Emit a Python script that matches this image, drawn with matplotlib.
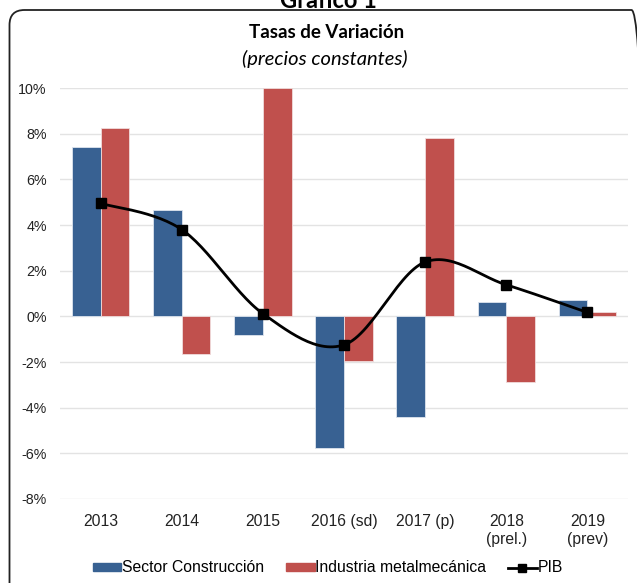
import matplotlib
matplotlib.use("Agg")
import matplotlib.pyplot as plt
import numpy as np
from matplotlib.patches import FancyBboxPatch
from matplotlib.lines import Line2D
from matplotlib.patches import Patch
from matplotlib.transforms import IdentityTransform

categories = ["2013", "2014", "2015", "2016 (sd)", "2017 (p)", "2018\n(prel.)", "2019\n(prev)"]
construccion = [7.4, 4.65, -0.8, -5.75, -4.4, 0.62, 0.7]
metalmecanica = [8.25, -1.65, 10.0, -1.95, 7.8, -2.87, 0.18]
pib = [4.95, 3.8, 0.12, -1.25, 2.38, 1.38, 0.17]

BLUE = "#386192"
RED = "#C0504D"

plt.rcParams['font.family'] = ['Liberation Sans', 'DejaVu Sans']

fig = plt.figure(figsize=(6.37, 5.83), dpi=100)
ax = fig.add_axes([60 / 637, 1 - 499 / 583, 568 / 637, 411 / 583])

x = np.arange(len(categories))
w = 0.354
ax.bar(x - w / 2, construccion, w, color=BLUE, edgecolor="#dde4ee", linewidth=0.6, zorder=2)
ax.bar(x + w / 2, metalmecanica, w, color=RED, edgecolor="#f0dcdc", linewidth=0.6, zorder=2)

# smoothed line like Excel (bezier through the points)
px = x.astype(float)
py = np.array(pib)
pts = np.column_stack([px, py])
curve = []
t = np.linspace(0, 1, 30)
for i in range(len(pts) - 1):
    p0 = pts[max(i - 1, 0)]
    p1 = pts[i]
    p2 = pts[i + 1]
    p3 = pts[min(i + 2, len(pts) - 1)]
    c1 = p1 + (p2 - p0) / 6
    c2 = p2 - (p3 - p1) / 6
    seg = ((1 - t) ** 3)[:, None] * p1 + (3 * (1 - t) ** 2 * t)[:, None] * c1 \
        + (3 * (1 - t) * t ** 2)[:, None] * c2 + (t ** 3)[:, None] * p2
    curve.append(seg)
curve = np.vstack(curve)
ax.plot(curve[:, 0], curve[:, 1], color="black", lw=2.0, zorder=3)
ax.plot(px, py, ls="none", marker="s", ms=6.5, color="black", zorder=4)

ax.set_xlim(-0.5, len(categories) - 0.5)
ax.set_ylim(-8, 10)
ax.set_yticks(np.arange(-8, 11, 2))
ax.set_yticklabels([f"{v}%" for v in range(-8, 11, 2)])
ax.set_xticks(x)
ax.set_xticklabels(categories)
ax.tick_params(axis="both", length=0, colors="#222222")
ax.tick_params(axis="y", pad=9.5, labelsize=10.3)
ax.tick_params(axis="x", pad=11, labelsize=11.3)
ax.grid(axis="y", color="#e3e3e3", lw=1, zorder=0)
ax.set_axisbelow(True)
for s in ax.spines.values():
    s.set_visible(False)

fig.text(328 / 637, 1 - 8 / 583, "Gráfico 1", ha="center", va="baseline",
         fontsize=17, fontweight="bold", family="Lato")
fig.text(327 / 637, 1 - 33 / 583, "Tasas de Variación", ha="center", va="center",
         fontsize=13.5, fontweight="bold", family="Lato")
fig.text(325 / 637, 1 - 59 / 583, "(precios constantes)", ha="center", va="center",
         fontsize=14.5, style="italic", family="Lato")

# rounded frame, in pixels; right and bottom sides fall outside the image
border = FancyBboxPatch((9.5, -60), 637, 583 - 10 + 60,
                        boxstyle="round,pad=0,rounding_size=15",
                        transform=IdentityTransform(), fill=False, ec="#222222", lw=1.3)
fig.patches.append(border)

handles = [Patch(color=BLUE), Patch(color=RED),
           Line2D([], [], color="black", lw=2.0, marker="s", ms=6)]
labels = ["Sector Construcción", "Industria metalmecánica", "PIB"]
fig.legend(handles, labels, loc="center", bbox_to_anchor=(328 / 637, 1 - 568 / 583),
           ncol=3, frameon=False, fontsize=11.3, handlelength=1.8, handleheight=0.45,
           handletextpad=0.05, columnspacing=1.4)

fig.savefig("out.png", dpi=100)
